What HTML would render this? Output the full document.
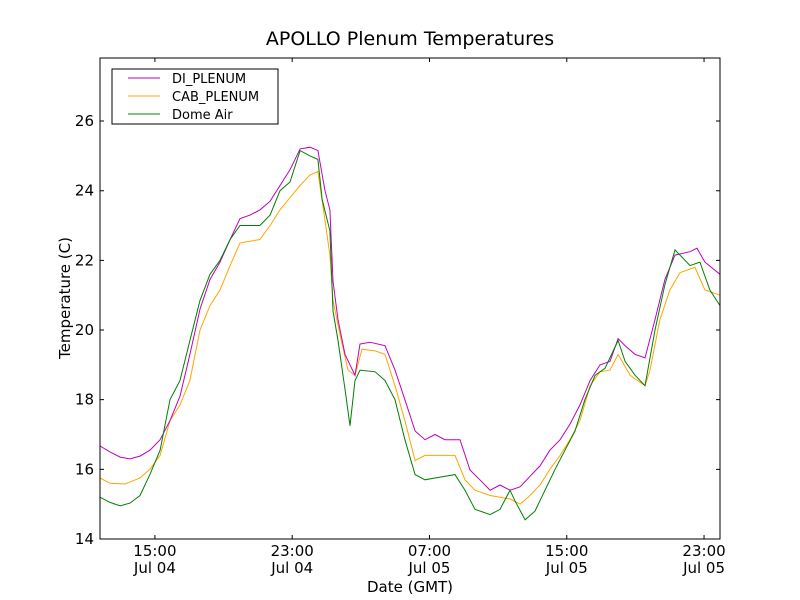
<!DOCTYPE html>
<html><head><meta charset="utf-8"><style>
body{margin:0;background:#fff;}
svg{display:block;font-family:"DejaVu Sans","Liberation Sans",sans-serif;}
</style></head><body>
<svg id="chart" width="800" height="600" viewBox="0 0 800 600">
<rect width="800" height="600" fill="#fff"/>
<text x="410" y="45" font-size="19" text-anchor="middle">APOLLO Plenum Temperatures</text>
<g id="series"></g>
<g id="axes"></g>
<rect x="100" y="58" width="620" height="481" fill="none" stroke="#000" stroke-width="1"/>
<text x="410" y="592" font-size="15" text-anchor="middle">Date (GMT)</text>
<text transform="translate(70,298) rotate(-90)" font-size="15" text-anchor="middle">Temperature (C)</text>
<g>
<rect x="112" y="69" width="166" height="55" fill="#fff" stroke="#000" stroke-width="1"/>
<line x1="128" y1="78" x2="160" y2="78" stroke="#bf00bf" stroke-width="1"/>
<text x="172" y="83" font-size="13">DI_PLENUM</text>
<line x1="128" y1="96" x2="160" y2="96" stroke="#ffa500" stroke-width="1"/>
<text x="172" y="101" font-size="13">CAB_PLENUM</text>
<line x1="128" y1="114" x2="160" y2="114" stroke="#008000" stroke-width="1"/>
<text x="172" y="119" font-size="13">Dome Air</text>
</g>
</svg>
<script>
const diTimes=[11.8,12.38,12.97,13.55,14.13,14.71,15.3,15.88,16.46,17.04,17.63,18.21,18.79,19.38,19.96,20.54,21.12,21.71,22.29,22.87,23.46,24.04,24.5,24.91,25.2,25.38,25.67,26.08,26.66,26.95,27.53,28.41,28.99,29.57,30.16,30.74,31.32,31.9,32.78,33.36,33.94,34.53,35.11,35.69,36.28,36.86,37.44,38.02,38.61,39.19,39.77,40.36,40.94,41.52,41.99,42.4,42.98,43.56,44.14,44.72,45.31,46.18,46.59,47.05,47.93];
const diValues=[16.67,16.5,16.35,16.3,16.38,16.55,16.85,17.4,18.1,19.3,20.6,21.45,21.95,22.6,23.2,23.3,23.45,23.7,24.15,24.6,25.2,25.25,25.15,24.0,23.45,21.4,20.3,19.3,18.7,19.6,19.65,19.55,18.85,18.0,17.1,16.85,17.0,16.85,16.85,15.98,15.7,15.4,15.55,15.4,15.5,15.8,16.1,16.55,16.85,17.3,17.85,18.55,19.0,19.1,19.75,19.55,19.3,19.2,20.3,21.45,22.15,22.25,22.35,21.95,21.6];
const cabTimes=[11.8,12.38,13.26,14.13,14.71,15.3,15.88,16.46,17.04,17.63,18.21,18.79,19.38,19.96,21.12,21.71,22.29,22.87,23.46,24.04,24.5,24.91,25.2,25.38,25.79,26.25,26.66,27.07,27.83,28.41,28.99,29.57,30.16,30.74,31.61,32.49,33.07,33.65,34.53,35.11,35.69,36.28,36.86,37.44,38.02,38.61,39.19,39.77,40.36,40.94,41.52,41.99,42.69,43.56,43.85,44.43,45.01,45.6,46.47,47.05,47.93];
const cabValues=[15.75,15.6,15.58,15.75,16.0,16.4,17.4,17.85,18.55,20.0,20.7,21.15,21.85,22.5,22.6,23.0,23.45,23.8,24.15,24.45,24.55,23.15,22.15,20.85,19.85,18.85,18.7,19.45,19.4,19.3,18.4,17.4,16.25,16.4,16.4,16.4,15.7,15.4,15.25,15.2,15.15,15.0,15.25,15.55,16.0,16.4,16.85,17.4,18.4,18.8,18.85,19.3,18.7,18.4,18.85,20.3,21.15,21.65,21.8,21.15,21.0];
const domeTimes=[11.8,12.38,12.97,13.55,14.13,14.71,15.3,15.88,16.46,17.04,17.63,18.21,18.79,19.38,19.96,21.12,21.71,22.29,22.87,23.46,24.04,24.5,24.74,25.2,25.38,25.67,26.08,26.37,26.66,26.95,27.83,28.41,28.99,29.57,30.16,30.74,31.32,32.49,33.07,33.65,34.53,35.11,35.69,35.98,36.57,37.15,37.73,38.32,38.9,39.48,40.06,40.65,41.23,41.99,42.4,42.98,43.56,44.14,44.72,45.31,46.18,46.76,47.34,47.93];
const domeValues=[15.2,15.05,14.95,15.03,15.25,15.85,16.55,18.0,18.55,19.7,20.85,21.6,22.0,22.6,23.0,23.0,23.3,24.0,24.25,25.15,25.0,24.9,23.75,22.85,20.55,19.7,18.3,17.25,18.55,18.85,18.8,18.55,18.0,16.85,15.85,15.7,15.75,15.85,15.4,14.85,14.7,14.85,15.4,15.1,14.55,14.8,15.4,16.0,16.55,17.1,18.0,18.7,18.9,19.7,19.1,18.7,18.4,20.0,21.3,22.3,21.85,21.95,21.15,20.7];
const yTicks=[14,16,18,20,22,24,26];
const xTicks=[15,23,31,39,47];
const xTickTimes=["15:00","23:00","07:00","15:00","23:00"];
const xTickDates=["Jul 04","Jul 04","Jul 05","Jul 05","Jul 05"];

const X0=100,X1=720,Y0=539,Y1=58,T0=11.8,T1=47.93,V0=14,V1=27.81;
function xs(t){return X0+(t-T0)/(T1-T0)*(X1-X0);}
function ys(v){return Y0-(v-V0)/(V1-V0)*(Y0-Y1);}
const NS="http://www.w3.org/2000/svg";
const sg=document.getElementById('series');
function draw(times,vals,color,name){
  const p=document.createElementNS(NS,'path');
  let d='';
  for(let i=0;i<times.length;i++){d+=(i?'L':'M')+xs(times[i]).toFixed(1)+' '+ys(vals[i]).toFixed(1);}
  p.setAttribute('d',d);p.setAttribute('fill','none');p.setAttribute('stroke',color);p.setAttribute('stroke-width','1');
  
  
  sg.appendChild(p);
}
draw(cabTimes,cabValues,'#ffa500','cab-plenum-line');
draw(diTimes,diValues,'#bf00bf','di-plenum-line');
draw(domeTimes,domeValues,'#008000','dome-air-line');
const ag=document.getElementById('axes');
yTicks.forEach(v=>{
  const y=ys(v);
  const l=document.createElementNS(NS,'path');
  l.setAttribute('d',`M${X0} ${y}h4M${X1} ${y}h-4`);l.setAttribute('stroke','#000');
  
  
  ag.appendChild(l);
  const t=document.createElementNS(NS,'text');
  t.setAttribute('x',X0-6);t.setAttribute('y',y+5);t.setAttribute('text-anchor','end');t.setAttribute('font-size','15');
  t.textContent=v;
  
  
  ag.appendChild(t);
});
xTicks.forEach((h,i)=>{
  const x=xs(h);
  const l=document.createElementNS(NS,'path');
  l.setAttribute('d',`M${x} ${Y0}v-4M${x} ${Y1}v4`);l.setAttribute('stroke','#000');
  
  
  ag.appendChild(l);
  [xTickTimes[i],xTickDates[i]].forEach((s,k)=>{
    const t=document.createElementNS(NS,'text');
    t.setAttribute('x',x);t.setAttribute('y',556+k*17);t.setAttribute('text-anchor','middle');t.setAttribute('font-size','15');
    t.textContent=s;
    
    
    ag.appendChild(t);
  });
});
</script>
</body></html>
